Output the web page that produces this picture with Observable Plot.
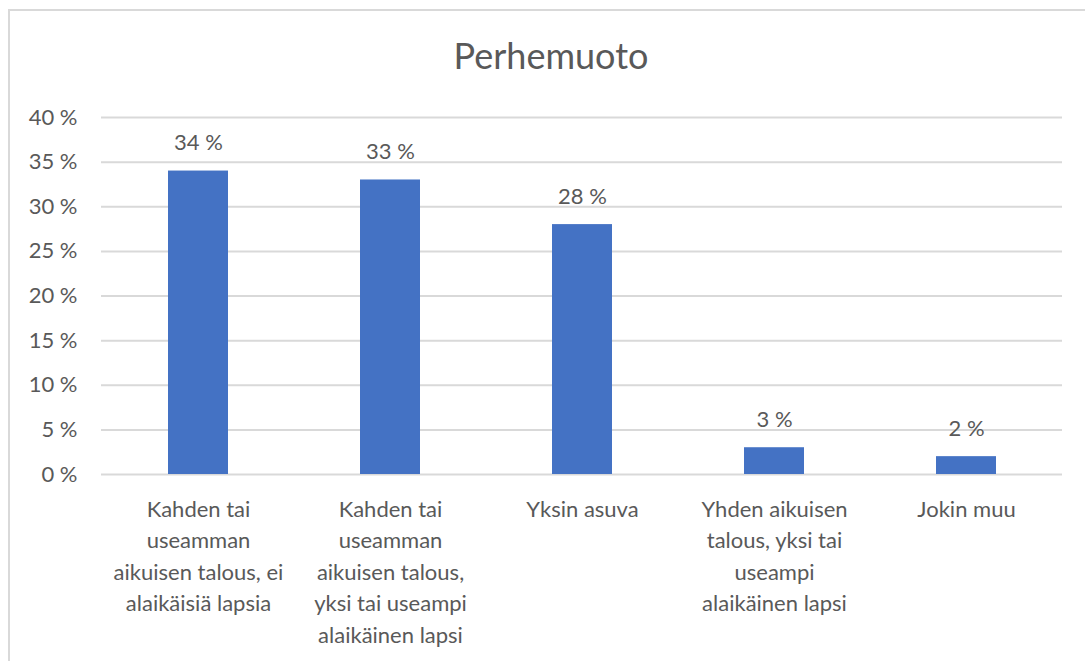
<!DOCTYPE html>
<html><head><meta charset="utf-8">
<script src="https://cdn.jsdelivr.net/npm/d3@7"></script>
<script src="https://cdn.jsdelivr.net/npm/@observablehq/plot@0.6"></script>
<style>
body{margin:0;background:#fff;font-family:Lato, sans-serif;}
#wrap{position:relative;width:1085px;height:661px;overflow:hidden;background:#fff;}
#frame{position:absolute;left:8px;top:9px;width:1200px;height:800px;border:2px solid #d9d9d9;box-sizing:border-box;}
#title{position:absolute;left:0;width:1102px;top:35px;line-height:40px;text-align:center;font-size:36px;color:#595959;}
#chart{position:absolute;left:0;top:0;}
</style></head><body>
<div id="wrap"><div id="frame"></div><div id="title">Perhemuoto</div><div id="chart"></div></div>
<script>
const categories = [
  "Kahden tai useamman aikuisen talous, ei alaikäisiä lapsia",
  "Kahden tai useamman aikuisen talous, yksi tai useampi alaikäinen lapsi",
  "Yksin asuva",
  "Yhden aikuisen talous, yksi tai useampi alaikäinen lapsi",
  "Jokin muu"
];
const categoryLabels = [
  "Kahden tai\nuseamman\naikuisen talous, ei\nalaikäisiä lapsia",
  "Kahden tai\nuseamman\naikuisen talous,\nyksi tai useampi\nalaikäinen lapsi",
  "Yksin asuva",
  "Yhden aikuisen\ntalous, yksi tai\nuseampi\nalaikäinen lapsi",
  "Jokin muu"
];
const values = [34, 33, 28, 3, 2];
const yTicks = [0, 5, 10, 15, 20, 25, 30, 35, 40];

const data = categories.map((c, i) => ({category: c, value: values[i]}));
const txt = "#595959";
const chart = Plot.plot({
  width: 1085, height: 661,
  marginLeft: 101, marginRight: 23, marginTop: 117, marginBottom: 187,
  style: {fontFamily: "Lato, sans-serif", fontSize: "22px", color: txt, background: "transparent"},
  x: {domain: categories, paddingInner: 0.69, paddingOuter: 0.345, axis: null},
  y: {domain: [0, 40], axis: null},
  marks: [
    Plot.gridY(yTicks, {stroke: "#d9d9d9", strokeOpacity: 1, strokeWidth: 2}),
    Plot.barY(data, {x: "category", y: "value", fill: "#4472c4"}),
    Plot.axisY(yTicks, {tickSize: 0, tickPadding: 24, label: null, tickFormat: d => `${d} %`, fill: txt, fontSize: 22}),
    Plot.axisX({tickSize: 0, tickPadding: 20, label: null, tickFormat: c => categoryLabels[categories.indexOf(c)], lineHeight: 1.43, fill: txt, fontSize: 22}),
    Plot.text(data, {x: "category", y: "value", text: d => `${d.value} %`, dy: -28, lineAnchor: "middle", fill: txt, fontSize: 22})
  ]
});
document.getElementById("chart").appendChild(chart);
</script>
</body></html>
